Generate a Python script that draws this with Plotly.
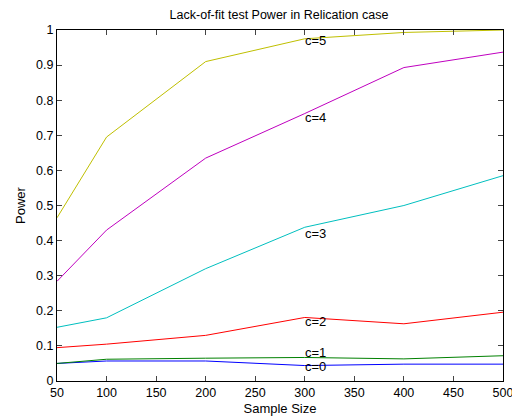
import plotly.graph_objects as go

sample_size = [50, 100, 200, 300, 400, 500]
power_c0 = [0.050, 0.057, 0.057, 0.044, 0.048, 0.048]
power_c1 = [0.050, 0.062, 0.065, 0.067, 0.063, 0.072]
power_c2 = [0.095, 0.105, 0.130, 0.181, 0.163, 0.196]
power_c3 = [0.153, 0.180, 0.320, 0.438, 0.500, 0.585]
power_c4 = [0.284, 0.430, 0.635, 0.762, 0.893, 0.937]
power_c5 = [0.465, 0.695, 0.910, 0.975, 0.993, 1.000]

series = [power_c0, power_c1, power_c2, power_c3, power_c4, power_c5]
labels = ["c=0", "c=1", "c=2", "c=3", "c=4", "c=5"]
label_y = [0.040, 0.082, 0.170, 0.420, 0.752, 0.969]
label_x = 300
colors = ["#0000ff", "#008000", "#ff0000", "#00bfbf", "#bf00bf", "#bfbf00"]

x_ticks = [50, 100, 150, 200, 250, 300, 350, 400, 450, 500]
y_ticks = [0, 0.1, 0.2, 0.3, 0.4, 0.5, 0.6, 0.7, 0.8, 0.9, 1]
y_tick_text = ["0", "0.1", "0.2", "0.3", "0.4", "0.5", "0.6", "0.7", "0.8", "0.9", "1"]

fig = go.Figure()
for vals, name, col in zip(series, labels, colors):
    fig.add_trace(go.Scatter(x=sample_size, y=vals, mode="lines", name=name,
                             line=dict(color=col, width=1)))

for name, ly in zip(labels, label_y):
    fig.add_annotation(x=label_x, y=ly, text=name, showarrow=False,
                       xanchor="left", yanchor="middle", xshift=-2,
                       font=dict(size=13, color="black"))

font_family = "Liberation Sans, Arial, sans-serif"
fig.update_layout(
    width=512, height=419,
    margin=dict(l=57, r=9, t=30, b=38, autoexpand=False),
    paper_bgcolor="white", plot_bgcolor="white",
    showlegend=False,
    font=dict(family=font_family, size=12, color="black"),
    title=dict(text="Lack-of-fit test Power in Relication case", x=0.545, xanchor="center",
               y=0.966, yanchor="middle", font=dict(size=12.5)),
)
fig.update_xaxes(range=[50, 500], tickvals=x_ticks, ticks="inside", ticklen=5,
                 showline=True, linecolor="black", linewidth=1, mirror="ticks",
                 showgrid=False, zeroline=False, ticklabeloverflow="allow",
                 automargin=False, tickfont=dict(size=12.5),
                 title=dict(text="Sample Size", standoff=4, font=dict(size=13)))
fig.update_yaxes(range=[0, 1], tickvals=y_ticks, ticktext=y_tick_text, ticks="inside", ticklen=5,
                 showline=True, linecolor="black", linewidth=1, mirror="ticks",
                 showgrid=False, zeroline=False, automargin=False, tickfont=dict(size=12.5),
                 title=dict(text="Power", standoff=7, font=dict(size=13)))

fig.write_html("out.html")
